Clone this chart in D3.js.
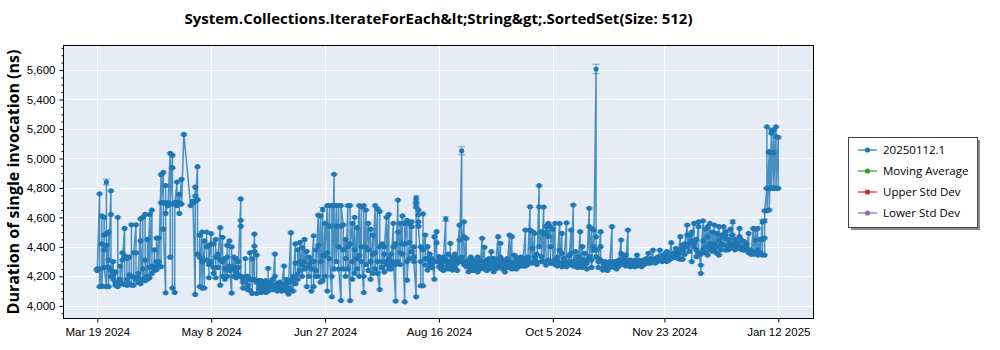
<!DOCTYPE html>
<html>
<head>
<meta charset="utf-8">
<script src="https://cdn.jsdelivr.net/npm/d3@7"></script>
<style>
  html, body { margin: 0; padding: 0; background: #ffffff; }
  svg { display: block; font-family: "Open Sans", "Noto Sans", sans-serif; }
</style>
</head>
<body>
<svg id="chart" width="1000" height="350"></svg>
<script>
// Benchmark runs per day: [dayOfMonth, [durations in ns ...]]
const mar2024 = [
  [19, [4245, 4250, 4240, 4248]], [20, [4760, 4130, 4250]], [21, [4135, 4610, 4420, 4130]],
  [22, [4480, 4600, 4380, 4260]], [23, [4130, 4840, 4490, 4410, 4130]], [24, [4500, 4260, 4130, 4310]],
  [25, [4780, 4240, 4620, 4200]], [26, [4300, 4215, 4180]], [27, [4230, 4140, 4160]],
  [28, [4140, 4600, 4130]], [29, [4150, 4270, 4180]], [30, [4360, 4150, 4310]], [31, [4525, 4145, 4340]]
];
const apr2024 = [
  [1, [4320, 4140, 4180]], [2, [4210, 4330, 4150]], [3, [4140, 4550, 4200]], [4, [4195, 4140, 4360]],
  [5, [4550, 4360, 4180]], [6, [4160, 4190, 4220]], [7, [4590, 4150, 4440]], [8, [4180, 4600, 4250]],
  [9, [4170, 4620, 4310]], [10, [4200, 4450, 4180]], [11, [4620, 4190, 4260]], [12, [4650, 4270, 4220]],
  [13, [4265, 4380, 4240]], [14, [4245, 4460, 4300]], [15, [4460, 4270, 4300]], [16, [4890, 4265, 4700]],
  [17, [4905, 4700, 4520]], [18, [4088, 4815, 4695, 4627]], [19, [4690, 4700, 4680]], [20, [5035, 4330, 4690]],
  [21, [5021, 4937, 4120]], [22, [4090, 4700, 4690]], [23, [4840, 4700, 4680]], [24, [4757, 4627, 4700]],
  [25, [4858, 4690]], [26, [5163]], [29, [4680]], [30, [4710, 4700]]
];
const may2024 = [
  [1, [4077, 4805, 4745, 4707]], [2, [4944, 4720, 4350]], [3, [4330, 4480, 4130]], [4, [4500, 4300, 4120]],
  [5, [4440, 4120, 4310]], [6, [4310, 4500, 4400]], [7, [4410, 4190, 4280]], [8, [4490, 4420, 4300]],
  [9, [4220, 4420, 4260]], [10, [4190, 4450, 4330]], [11, [4330, 4260, 4350]], [12, [4530, 4140, 4310]],
  [13, [4465, 4300, 4200]], [14, [4320, 4250, 4180]], [15, [4330, 4200, 4410]], [16, [4440, 4240, 4270]],
  [17, [4086, 4400, 4250]], [18, [4330, 4200, 4260]], [19, [4320, 4230, 4190]], [20, [4210, 4260, 4300]],
  [21, [4725, 4580, 4540, 4200]], [22, [4120, 4180, 4160]], [23, [4170, 4320, 4200]], [24, [4140, 4200, 4110]],
  [25, [4105, 4180, 4360]], [26, [4317, 4175, 4084]], [27, [4487, 4405, 4370, 4180]], [28, [4160, 4344, 4084]],
  [29, [4150, 4120, 4170]], [30, [4110, 4170, 4090]], [31, [4140, 4100, 4160]]
];
const jun2024 = [
  [1, [4120, 4170, 4090]], [2, [4150, 4254, 4100]], [3, [4130, 4160, 4110]], [4, [4110, 4180, 4140]],
  [5, [4351, 4130, 4200]], [6, [4120, 4150, 4100]], [7, [4140, 4110, 4160]], [8, [4130, 4100, 4150]],
  [9, [4270, 4140, 4120]], [10, [4150, 4100, 4180]], [11, [4120, 4080, 4160]], [12, [4496, 4170, 4110]],
  [13, [4180, 4100, 4200]], [14, [4420, 4290, 4150]], [15, [4215, 4380, 4180]], [16, [4430, 4300, 4240]],
  [17, [4395, 4280, 4200]], [18, [4450, 4250, 4300]], [19, [4370, 4130, 4260]], [20, [4280, 4200, 4330]],
  [21, [4300, 4100, 4250]], [22, [4475, 4130, 4300]], [23, [4200, 4380, 4240]], [24, [4616, 4410, 4200]],
  [25, [4610, 4300, 4160]], [26, [4654, 4340, 4170]], [27, [4560, 4200, 4340]], [28, [4680, 4360, 4100]],
  [29, [4680, 4540, 4320]], [30, [4061, 4680, 4200]]
];
const jul2024 = [
  [1, [4892, 4680, 4250]], [2, [4680, 4540, 4300]], [3, [4680, 4400, 4250]], [4, [4035, 4540, 4680]],
  [5, [4550, 4250, 4380]], [6, [4450, 4320, 4200]], [7, [4680, 4250, 4400]], [8, [4035, 4680, 4420]],
  [9, [4560, 4300, 4180]], [10, [4600, 4380, 4220]], [11, [4530, 4250, 4320]], [12, [4680, 4340, 4200]],
  [13, [4670, 4400, 4300]], [14, [4090, 4680, 4200]], [15, [4650, 4280, 4400]], [16, [4560, 4240, 4380]],
  [17, [4520, 4300, 4180]], [18, [4480, 4220, 4350]], [19, [4680, 4360, 4250]], [20, [4660, 4300, 4220]],
  [21, [4110, 4640, 4400]], [22, [4420, 4300, 4260]], [23, [4350, 4230, 4400]], [24, [4600, 4300, 4280]],
  [25, [4620, 4320, 4250]], [26, [4350, 4250, 4280]], [27, [4560, 4400, 4300]], [28, [4032, 4420, 4280]],
  [29, [4717, 4500, 4300]], [30, [4560, 4280, 4360]], [31, [4610, 4350, 4420]]
];
const aug2024 = [
  [1, [4027, 4559, 4420]], [2, [4580, 4300, 4174]], [3, [4430, 4560, 4320]], [4, [4570, 4537, 4367]],
  [5, [4333, 4400, 4300]], [6, [4061, 4733, 4706, 4690, 4670]], [7, [4650, 4617, 4570, 4540]], [8, [4300, 4400, 4136]],
  [9, [4136, 4623, 4380]], [10, [4480, 4276, 4320]], [11, [4320, 4242, 4401]], [12, [4300, 4350, 4270]],
  [13, [4260, 4320, 4290]], [14, [4180, 4469, 4300]], [15, [4503, 4428, 4300]], [16, [4333, 4265, 4300]],
  [17, [4280, 4310, 4250]], [18, [4300, 4240, 4330]], [19, [4589, 4310, 4260]], [20, [4350, 4290, 4250]],
  [21, [4300, 4424, 4270]], [22, [4242, 4330, 4280]], [23, [4310, 4260, 4350]], [24, [4290, 4240, 4320]],
  [25, [4548, 4446, 4300]], [26, [5052, 4300, 4330]], [27, [4570, 4469, 4280]], [28, [4458, 4265, 4300]],
  [29, [4231, 4280, 4310]], [30, [4290, 4250, 4330]], [31, [4260, 4310, 4240]]
];
const sep2024 = [
  [1, [4300, 4250, 4280]], [2, [4330, 4230, 4290]], [3, [4270, 4300, 4250]], [4, [4458, 4270, 4300]],
  [5, [4397, 4250, 4280]], [6, [4310, 4240, 4300]], [7, [4270, 4320, 4250]], [8, [4367, 4290, 4260]],
  [9, [4322, 4231, 4300]], [10, [4280, 4250, 4310]], [11, [4469, 4300, 4260]], [12, [4424, 4280, 4330]],
  [13, [4310, 4250, 4280]], [14, [4300, 4230, 4290]], [15, [4260, 4320, 4280]], [16, [4480, 4300, 4270]],
  [17, [4469, 4280, 4250]], [18, [4344, 4288, 4265]], [19, [4300, 4250, 4330]], [20, [4265, 4310, 4280]],
  [21, [4330, 4280, 4300]], [22, [4300, 4270, 4320]], [23, [4514, 4300, 4270]], [24, [4330, 4280, 4300]],
  [25, [4672, 4514, 4300]], [26, [4503, 4390, 4290]], [27, [4492, 4300, 4330]], [28, [4300, 4350, 4280]],
  [29, [4815, 4672, 4401]], [30, [4503, 4333, 4300]]
];
const oct2024 = [
  [1, [4670, 4490, 4300]], [2, [4540, 4276, 4500]], [3, [4559, 4310, 4470]], [4, [4537, 4288, 4401]],
  [5, [4520, 4300, 4290]], [6, [4560, 4310, 4280]], [7, [4300, 4270, 4330]], [8, [4559, 4378, 4288]],
  [9, [4491, 4265, 4356]], [10, [4300, 4280, 4320]], [11, [4563, 4290, 4265]], [12, [4300, 4340, 4280]],
  [13, [4514, 4356, 4280]], [14, [4684, 4300, 4270]], [15, [4367, 4265, 4300]], [16, [4333, 4280, 4260]],
  [17, [4503, 4300, 4270]], [18, [4401, 4310, 4260]], [19, [4356, 4280, 4300]], [20, [4290, 4250, 4310]],
  [21, [4661, 4537, 4333]], [22, [4525, 4310, 4260]], [23, [4514, 4401, 4378]], [24, [5607, 4469, 4378, 4333]],
  [25, [4300, 4260, 4320]], [26, [4503, 4401, 4310]], [27, [4242, 4290, 4260]], [28, [4280, 4250, 4300]],
  [29, [4270, 4240, 4290]], [30, [4300, 4260, 4280]], [31, [4537, 4290, 4270]]
];
const nov2024 = [
  [1, [4280, 4260, 4300]], [2, [4270, 4300, 4250]], [3, [4290, 4270, 4310]], [4, [4446, 4356, 4290]],
  [5, [4333, 4280, 4300]], [6, [4344, 4310, 4270]], [7, [4514, 4300, 4280]], [8, [4290, 4265, 4310]],
  [9, [4300, 4270, 4290]], [10, [4280, 4310, 4265]], [11, [4344, 4290, 4270]], [12, [4300, 4280, 4310]],
  [13, [4290, 4265, 4300]], [14, [4310, 4280, 4300]], [15, [4300, 4290, 4320]], [16, [4356, 4300, 4290]],
  [17, [4310, 4290, 4320]], [18, [4378, 4310, 4300]], [19, [4320, 4290, 4310]], [20, [4330, 4300, 4310]],
  [21, [4378, 4310, 4320]], [22, [4340, 4300, 4320]], [23, [4330, 4310, 4350]], [24, [4367, 4320, 4300]],
  [25, [4340, 4310, 4330]], [26, [4428, 4330, 4320]], [27, [4360, 4330, 4350]], [28, [4390, 4340, 4330]],
  [29, [4370, 4320, 4350]], [30, [4469, 4380, 4316]]
];
const dec2024 = [
  [1, [4412, 4316, 4380]], [2, [4400, 4350, 4420]], [3, [4548, 4480, 4400]], [4, [4480, 4424, 4370]],
  [5, [4500, 4300, 4440]], [6, [4559, 4428, 4400]], [7, [4333, 4450, 4380]], [8, [4570, 4537, 4356]],
  [9, [4276, 4220, 4350]], [10, [4577, 4440, 4380]], [11, [4520, 4400, 4360]], [12, [4537, 4469, 4344]],
  [13, [4559, 4420, 4380]], [14, [4500, 4400, 4370]], [15, [4548, 4378, 4420]], [16, [4491, 4356, 4400]],
  [17, [4537, 4446, 4344]], [18, [4480, 4380, 4420]], [19, [4537, 4469, 4412]], [20, [4503, 4480, 4378]],
  [21, [4450, 4400, 4380]], [22, [4520, 4420, 4390]], [23, [4570, 4480, 4420]], [24, [4450, 4400, 4380]],
  [25, [4390, 4424, 4400]], [26, [4525, 4469, 4390]], [27, [4446, 4400, 4380]], [28, [4390, 4435, 4378]],
  [29, [4420, 4380, 4400]], [30, [4491, 4378, 4360]], [31, [4378, 4360, 4350]]
];
const jan2025 = [
  [1, [4525, 4367, 4350]], [2, [4520, 4446, 4356]], [3, [4525, 4380, 4344]], [4, [4450, 4360, 4350]],
  [5, [4570, 4450, 4344]], [6, [4344, 4577, 4460, 4645]], [7, [4797, 5215, 4797, 4645]],
  [8, [5046, 4797, 5040, 4650]], [9, [5193, 4797, 5171, 4800]], [10, [5193, 4797, 5040, 4800]],
  [11, [5215, 4797, 5148, 4800]], [12, [5143, 4797]]
];

// Runs whose spread is wider than the usual few nanoseconds: [date, duration, error]
const wideErrors = [
  ["2024-03-23", 4840, 20], ["2024-06-26", 4654, 14], ["2024-08-06", 4733, 12],
  ["2024-08-19", 4589, 15], ["2024-08-26", 5052, 27], ["2024-10-24", 5607, 32],
  ["2024-12-23", 4570, 12], ["2025-01-05", 4570, 14], ["2025-01-06", 4577, 12]
];
const baseError = 5;

const yTickValues = [4000, 4200, 4400, 4600, 4800, 5000, 5200, 5400, 5600];
const xTickDates = ["2024-03-19", "2024-05-08", "2024-06-27", "2024-08-16", "2024-10-05", "2024-11-23", "2025-01-12"];

const legendLabels = ["20250112.1", "Moving Average", "Upper Std Dev", "Lower Std Dev"];
const legendColors = ["#1f77b4", "#2ca02c", "#d62728", "#9467bd"];

const titleText = "System.Collections.IterateForEach&lt;String&gt;.SortedSet(Size: 512)";
const yLabelText = "Duration of single invocation (ns)";

// ---- flatten the monthly tables into one ordered series ----
const months = [
  [2024, 3, mar2024], [2024, 4, apr2024], [2024, 5, may2024], [2024, 6, jun2024],
  [2024, 7, jul2024], [2024, 8, aug2024], [2024, 9, sep2024], [2024, 10, oct2024],
  [2024, 11, nov2024], [2024, 12, dec2024], [2025, 1, jan2025]
];
const isoDay = d3.utcFormat("%Y-%m-%d");
const errLookup = new Map(wideErrors.map(([d, v, e]) => [d + "|" + v, e]));
const runs = months.flatMap(([yr, mo, days]) =>
  days.flatMap(([day, vals]) => vals.map(v => {
    const date = new Date(Date.UTC(yr, mo - 1, day));
    const err = errLookup.get(isoDay(date) + "|" + v) ?? baseError;
    return { date, value: v, err };
  }))
);

// ---- layout ----
const plot = { left: 63.5, right: 813.5, top: 46, bottom: 318 };
const svg = d3.select("#chart");
svg.append("rect").attr("width", 1000).attr("height", 350).attr("fill", "#ffffff");

const x = d3.scaleUtc()
  .domain([new Date(Date.UTC(2024, 2, 4, 4)), new Date(Date.UTC(2025, 0, 27, 11))])
  .range([plot.left, plot.right]);
const y = d3.scaleLinear()
  .domain([3917, 5763])
  .range([plot.bottom, plot.top]);

const xTicks = xTickDates.map(s => new Date(s + "T00:00:00Z"));

// plot background
svg.append("rect")
  .attr("x", plot.left).attr("y", plot.top)
  .attr("width", plot.right - plot.left).attr("height", plot.bottom - plot.top)
  .attr("fill", "#e5ecf6");

// grid
const grid = svg.append("g").attr("stroke", "#ffffff").attr("stroke-width", 1.2);
grid.selectAll("line.h").data(yTickValues).join("line")
  .attr("x1", plot.left).attr("x2", plot.right)
  .attr("y1", d => Math.round(y(d)) + 0.5).attr("y2", d => Math.round(y(d)) + 0.5);
grid.selectAll("line.v").data(xTicks).join("line")
  .attr("y1", plot.top).attr("y2", plot.bottom)
  .attr("x1", d => Math.round(x(d)) + 0.5).attr("x2", d => Math.round(x(d)) + 0.5);

// clip
svg.append("clipPath").attr("id", "plotClip").append("rect")
  .attr("x", plot.left).attr("y", plot.top)
  .attr("width", plot.right - plot.left).attr("height", plot.bottom - plot.top);
const layer = svg.append("g").attr("clip-path", "url(#plotClip)");

const blue = legendColors[0];

// connecting line
layer.append("path")
  .datum(runs)
  .attr("fill", "none")
  .attr("stroke", blue)
  .attr("stroke-opacity", 0.8)
  .attr("stroke-width", 1.5)
  .attr("stroke-linejoin", "round")
  .attr("d", d3.line().x(d => x(d.date)).y(d => y(d.value)));

// error bars
const eb = layer.append("g").attr("stroke", blue).attr("stroke-opacity", 0.6).attr("stroke-width", 1);
eb.selectAll("line.stem").data(runs).join("line")
  .attr("x1", d => x(d.date)).attr("x2", d => x(d.date))
  .attr("y1", d => y(d.value - d.err)).attr("y2", d => y(d.value + d.err));
eb.selectAll("line.capTop").data(runs).join("line")
  .attr("x1", d => x(d.date) - 3.5).attr("x2", d => x(d.date) + 3.5)
  .attr("y1", d => y(d.value + d.err)).attr("y2", d => y(d.value + d.err));
eb.selectAll("line.capBottom").data(runs).join("line")
  .attr("x1", d => x(d.date) - 3.5).attr("x2", d => x(d.date) + 3.5)
  .attr("y1", d => y(d.value - d.err)).attr("y2", d => y(d.value - d.err));

// markers
layer.append("g").selectAll("circle").data(runs).join("circle")
  .attr("cx", d => x(d.date)).attr("cy", d => y(d.value))
  .attr("r", 2.6).attr("fill", blue);

// frame
svg.append("rect")
  .attr("x", plot.left).attr("y", plot.top - 0.5)
  .attr("width", plot.right - plot.left).attr("height", plot.bottom - plot.top + 1)
  .attr("fill", "none").attr("stroke", "#000").attr("stroke-width", 1);

// y axis
const yMinor = d3.range(3950, 5751, 50).filter(v => v % 200 !== 0);
const yAxisMinor = svg.append("g").attr("transform", `translate(${plot.left},0)`)
  .call(d3.axisLeft(y).tickValues(yMinor).tickSize(2).tickFormat(""));
yAxisMinor.select(".domain").remove();
const yAxis = svg.append("g").attr("transform", `translate(${plot.left},0)`)
  .call(d3.axisLeft(y).tickValues(yTickValues).tickSize(4).tickPadding(4).tickFormat(d3.format(",")));
yAxis.select(".domain").remove();
yAxis.selectAll("text").attr("font-size", 11.5).attr("fill", "#000");
svg.selectAll(".tick line").attr("stroke", "#000");

// x axis
const xAxis = svg.append("g").attr("transform", `translate(0,${plot.bottom + 0.5})`)
  .call(d3.axisBottom(x).tickValues(xTicks).tickSize(4).tickPadding(5).tickFormat(d3.utcFormat("%b %-d %Y")));
xAxis.select(".domain").remove();
xAxis.selectAll("text").attr("font-size", 11.5).attr("fill", "#000");
xAxis.selectAll(".tick line").attr("stroke", "#000");

// title
svg.append("text")
  .attr("x", (plot.left + plot.right) / 2).attr("y", 24)
  .attr("text-anchor", "middle")
  .attr("font-size", 15).attr("font-weight", 700).attr("fill", "#000")
  .text(titleText);

// y axis label
svg.append("text")
  .attr("transform", `translate(19,${(plot.top + plot.bottom) / 2}) rotate(-90)`)
  .attr("text-anchor", "middle")
  .attr("font-size", 16).attr("font-weight", 700).attr("fill", "#000")
  .text(yLabelText);

// legend
const lg = svg.append("g").attr("transform", "translate(848,137)");
lg.append("rect").attr("x", 3).attr("y", 3).attr("width", 129).attr("height", 90).attr("fill", "#8a8a8a");
lg.append("rect").attr("x", 0.5).attr("y", 0.5).attr("width", 129).attr("height", 90)
  .attr("fill", "#ffffff").attr("stroke", "#444").attr("stroke-width", 1);
const rows = lg.selectAll("g.row").data(legendLabels).join("g")
  .attr("transform", (d, i) => `translate(0,${13 + i * 21})`);
rows.append("line").attr("x1", 10).attr("x2", 29).attr("y1", 0).attr("y2", 0)
  .attr("stroke", (d, i) => legendColors[i]).attr("stroke-opacity", 0.8).attr("stroke-width", 1.5);
rows.append("circle").attr("cx", 19.5).attr("cy", 0).attr("r", 2.6)
  .attr("fill", (d, i) => legendColors[i]);
rows.append("text").attr("x", 35).attr("y", 4)
  .attr("font-size", 11.5).attr("fill", "#000")
  .text(d => d);
</script>
</body>
</html>
